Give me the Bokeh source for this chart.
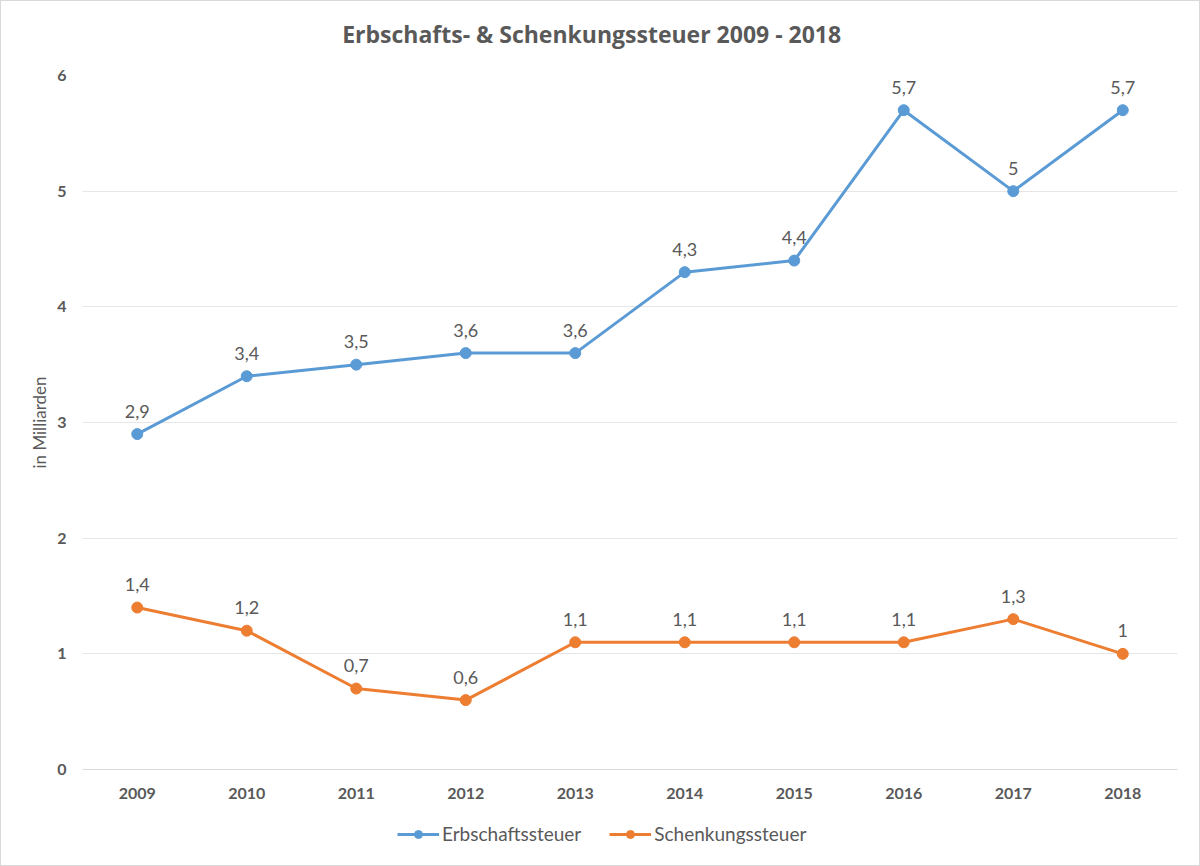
from bokeh.plotting import figure
from bokeh.layouts import column
from bokeh.models import FactorRange, Range1d, FixedTicker, Legend, LegendItem, ColumnDataSource, LabelSet, Label
from bokeh.core.properties import value
from bokeh.embed import file_html
from bokeh.resources import INLINE

title_text = "Erbschafts- & Schenkungssteuer 2009 - 2018"
years = ["2009", "2010", "2011", "2012", "2013", "2014", "2015", "2016", "2017", "2018"]
erbschaft = [2.9, 3.4, 3.5, 3.6, 3.6, 4.3, 4.4, 5.7, 5.0, 5.7]
schenkung = [1.4, 1.2, 0.7, 0.6, 1.1, 1.1, 1.1, 1.1, 1.3, 1.0]
y_ticks = [0, 1, 2, 3, 4, 5, 6]
series_names = ["Erbschaftssteuer", "Schenkungssteuer"]

def fmt(v):
    return ("%g" % v).replace(".", ",")

FONT = "Lato"
GREY = "#595959"
BLUE = "#5B9BD5"
ORANGE = "#ED7D31"
W = 1198

def strip(h):
    f = figure(width=W, height=h, x_range=Range1d(0, 1), y_range=Range1d(0, 1),
               min_border=0, output_backend="svg", toolbar_location=None)
    f.axis.visible = False
    f.grid.grid_line_color = None
    f.outline_line_color = None
    f.background_fill_color = "white"
    f.border_fill_color = "white"
    return f

# title strip
p0 = strip(60)
p0.add_layout(Label(x=0.465, y=0.46, text=title_text, text_align="center", text_baseline="middle",
                    text_font="Open Sans", text_font_size="23px", text_font_style="bold",
                    text_color=GREY))

# main chart
p = figure(x_range=FactorRange(factors=years), y_range=Range1d(0, 6),
           frame_width=1095, frame_height=694,
           min_border_left=81, min_border_right=22, min_border_top=14, min_border_bottom=32,
           output_backend="svg", toolbar_location=None)

p.outline_line_color = None
p.background_fill_color = "white"
p.border_fill_color = "white"

p.xgrid.grid_line_color = None
p.ygrid.grid_line_color = "#e6e6e6"
p.ygrid.grid_line_width = 1

p.yaxis.ticker = FixedTicker(ticks=y_ticks)
p.yaxis.axis_line_color = None
p.yaxis.major_tick_line_color = None
p.yaxis.minor_tick_line_color = None
p.yaxis.major_label_text_font = FONT
p.yaxis.major_label_text_font_size = "16px"
p.yaxis.major_label_text_font_style = "bold"
p.yaxis.major_label_text_color = GREY
p.yaxis.major_label_standoff = 10
p.yaxis.axis_label = "in Milliarden"
p.yaxis.axis_label_text_font = FONT
p.yaxis.axis_label_text_font_size = "17px"
p.yaxis.axis_label_text_font_style = "normal"
p.yaxis.axis_label_text_color = GREY
p.yaxis.axis_label_standoff = 4

p.xaxis.axis_line_color = "#d9d9d9"
p.xaxis.major_tick_line_color = None
p.xaxis.minor_tick_line_color = None
p.xaxis.major_label_text_font = FONT
p.xaxis.major_label_text_font_size = "16px"
p.xaxis.major_label_text_font_style = "bold"
p.xaxis.major_label_text_color = GREY
p.xaxis.major_label_standoff = 12

src = ColumnDataSource(dict(
    x=years, e=erbschaft, s=schenkung,
    el=[fmt(v) for v in erbschaft], sl=[fmt(v) for v in schenkung]))

p.line("x", "e", source=src, line_color=BLUE, line_width=3)
p.scatter("x", "e", source=src, size=11, fill_color=BLUE, line_color=BLUE)
p.line("x", "s", source=src, line_color=ORANGE, line_width=3)
p.scatter("x", "s", source=src, size=11, fill_color=ORANGE, line_color=ORANGE)

for col, lab in (("e", "el"), ("s", "sl")):
    ls = LabelSet(x="x", y=col, text=lab, source=src, y_offset=23,
                  text_align="center", text_baseline="middle",
                  text_font=value(FONT), text_font_size="18px", text_color=GREY)
    p.add_layout(ls)

# legend strip
p2 = strip(64)
items = []
for name, colr in zip(series_names, [BLUE, ORANGE]):
    placeholder = ColumnDataSource(dict(x=[float("nan")], y=[float("nan")]))
    r1 = p2.line("x", "y", source=placeholder, line_color=colr, line_width=3)
    r2 = p2.scatter("x", "y", source=placeholder, size=11, fill_color=colr, line_color=colr)
    items.append(LegendItem(label=name, renderers=[r1, r2]))

legend = Legend(items=items, orientation="horizontal", location=(315, 20),
                label_text_font=FONT, label_text_font_size="19px", label_text_color=GREY,
                glyph_width=42, label_standoff=3, spacing=28,
                border_line_color=None, background_fill_alpha=0,
                margin=0, padding=5)
p2.add_layout(legend)

layout = column(p0, p, p2, spacing=0,
                styles={"border": "1px solid #d9d9d9", "background": "white"})

open("out.html", "w").write(file_html(layout, INLINE))
